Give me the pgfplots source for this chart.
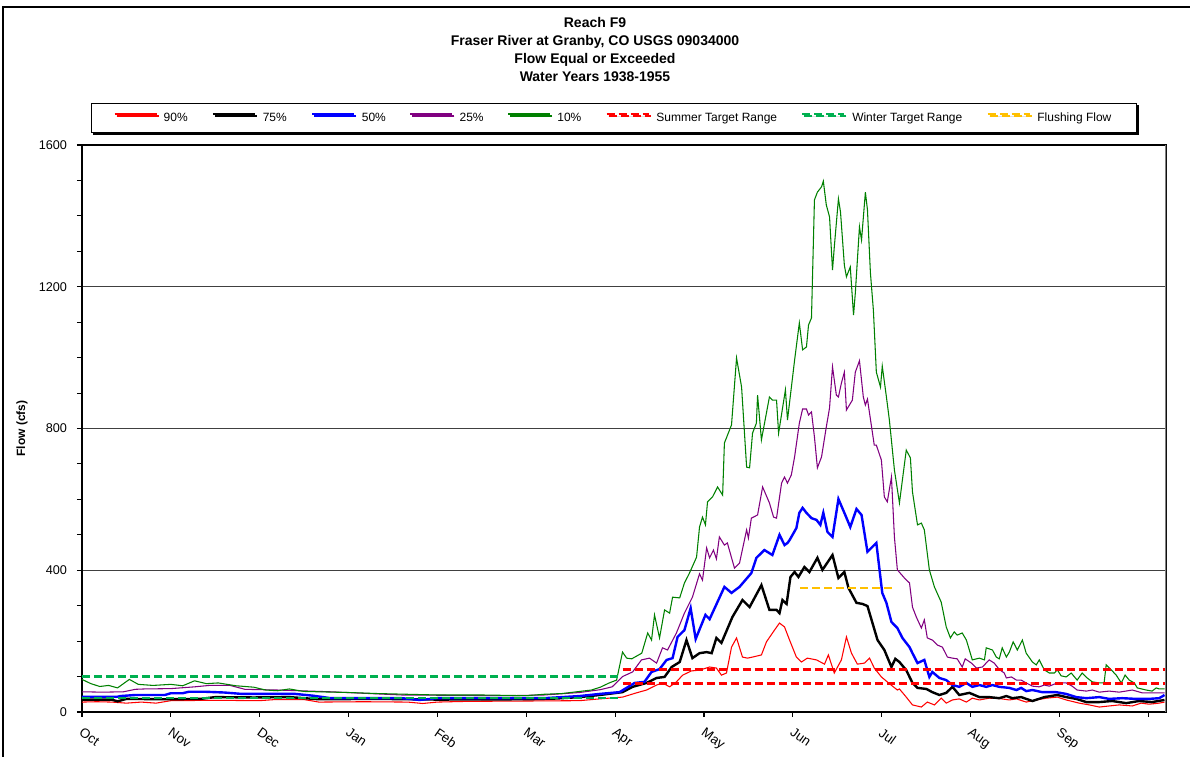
\documentclass[border=0pt]{standalone}
\usepackage{pgfplots}
\pgfplotsset{compat=1.18}
\usepackage{fontspec}
\setmainfont{Liberation Sans}
\usetikzlibrary{shadows}
\definecolor{c90}{RGB}{255,0,0}
\definecolor{c75}{RGB}{0,0,0}
\definecolor{c50}{RGB}{0,0,255}
\definecolor{c25}{RGB}{128,0,128}
\definecolor{c10}{RGB}{0,128,0}
\definecolor{csum}{RGB}{255,0,0}
\definecolor{cwin}{RGB}{0,176,80}
\definecolor{cflu}{RGB}{255,192,0}
\begin{document}
\begin{tikzpicture}
\useasboundingbox (-61.5pt,-33.75pt) rectangle (831pt,534pt);
\draw[black, line width=0.9pt] (-59.25pt,-34pt) -- (-59.25pt,528.75pt) -- (832pt,528.75pt);
\begin{axis}[
  at={(0,0)}, anchor=south west, scale only axis,
  width=813pt, height=425.25pt,
  xmin=0, xmax=366, ymin=0, ymax=1600,
  xtick={0,30,...,360},
  xticklabels={Oct,Nov,Dec,Jan,Feb,Mar,Apr,May,Jun,Jul,Aug,Sep,{}},
  ytick={0,400,...,1600},
  minor ytick={100,200,300,500,600,700,900,1000,1100,1300,1400,1500},
  tick pos=left,
  tick align=outside,
  major tick length=3.75pt, minor tick length=3.75pt,
  tick style={black, line width=0.8pt},
  ymajorgrids, grid style={black!75, line width=0.9pt},
  axis line style={black, line width=1pt},
  /pgf/number format/assume math mode=true,
  /pgf/number format/set thousands separator={},
  scaled y ticks=false,
  yticklabel style={font=\fontsize{9.5}{10}\selectfont, xshift=-4pt},
  xticklabel style={font=\fontsize{10}{11}\selectfont, rotate=-35, anchor=north west, xshift=2pt, yshift=-2pt},
  legend columns=8,
  legend style={at={(0.4908,1.0476)}, anchor=center, draw=black, line width=0.8pt,
    font=\fontsize{9}{10}\selectfont, inner xsep=17pt, inner ysep=5pt,
    drop shadow={shadow xshift=1.5pt, shadow yshift=-1.5pt, fill=black, opacity=1},
    /tikz/every odd column/.append style={column sep=3pt},
    /tikz/every even column/.append style={column sep=16pt}},
  legend image code/.code={\draw[#1] (0pt,3pt) -- (31.5pt,3pt);},
  legend cell align=left,
]
\addplot[c90, line width=0.8pt] coordinates {(0,28)(5,29)(10,28)(15,25)(20,28)(25,25)(30,32)(45,33)(60,32)(65,35)(75,35)(80,28)(95,29)(110,28)(115,24)(120,28)(130,30)(150,31)(168,32)(174.8,37)(182.5,42)(187.2,54)(190.6,62)(194.0,76)(196.0,82)(198.4,71)(200.7,85)(202.8,104)(205.8,116)(208.5,118)(211.9,127)(214.2,124)(215.9,104)(217.6,110)(219.3,183)(221.0,209)(223.0,155)(224.7,152)(226.4,155)(229.4,161)(231.1,198)(233.8,231)(235.5,251)(237.2,240)(238.9,203)(241.2,155)(242.9,141)(244.9,152)(248.0,147)(250.7,135)(252.0,161)(254.0,110)(256.4,147)(258.1,212)(259.8,166)(261.8,135)(264.2,138)(265.9,152)(267.5,124)(269.9,99)(272.6,80)(275.3,62)(276.0,65)(278.3,42)(280.4,20)(283.4,14)(285.4,28)(287.8,20)(290.1,39)(291.8,25)(293.9,34)(296.2,37)(298.6,28)(300.6,39)(303.0,34)(306.3,39)(309.7,38)(313.1,34)(315.5,37)(318.8,28)(322.2,34)(325.6,39)(329.3,42)(332.3,34)(336.7,25)(340.1,20)(343.5,14)(346.8,17)(350.2,20)(354.6,17)(357.6,25)(360.3,22)(363.7,25)(365.5,28)};
\addlegendentry{90\%}
\addplot[c75, line width=1.8pt] coordinates {(0,35)(10,35)(12,30)(15,37)(28,36)(40,37)(45,42)(58,41)(70,42)(80,36)(100,37)(120,35)(150,36)(160,38)(168,42)(174.8,48)(182.5,56)(185.9,71)(190.6,82)(194.0,96)(196.7,99)(199.1,127)(201.8,141)(204.1,203)(206.1,152)(208.5,166)(210.9,169)(212.6,166)(214.2,209)(215.9,195)(219.6,268)(223.0,316)(225.4,296)(229.4,358)(232.1,288)(234.5,288)(235.5,279)(236.5,316)(237.9,305)(239.2,381)(240.6,395)(241.9,381)(243.9,409)(245.6,395)(248.3,435)(250.0,401)(253.4,443)(255.4,378)(257.4,395)(258.8,350)(261.5,308)(263.5,305)(265.2,299)(268.6,203)(270.9,175)(273.3,127)(274.6,150)(276.0,141)(278.3,118)(280.4,82)(282.1,68)(285.1,65)(287.1,56)(289.5,48)(291.8,54)(293.9,71)(296.2,48)(299.6,54)(303.0,42)(306.3,42)(309.7,39)(312.1,45)(314.1,39)(317.1,42)(320.9,31)(324.9,42)(329.3,48)(332.3,42)(335.7,37)(339.1,28)(343.5,28)(347.8,31)(352.6,25)(356.9,31)(361.3,28)(365.5,34)};
\addlegendentry{75\%}
\addplot[c50, line width=1.8pt] coordinates {(0,43)(12,43)(13,45)(18,48)(28,48)(30,53)(34,53)(36,57)(42,57)(48,55)(54,51)(72,51)(78,46)(84,39)(108,39)(114,34)(120,39)(156,39)(168,45)(174.8,51)(181.5,56)(186.6,82)(189.9,85)(192.3,113)(195.0,121)(197.4,147)(199.4,152)(201.1,212)(203.4,231)(205.5,293)(207.2,206)(210.5,274)(211.9,262)(216.9,353)(219.3,336)(222.0,353)(226.0,392)(227.7,435)(230.4,457)(233.1,443)(235.5,500)(237.2,471)(238.2,477)(238.9,485)(241.2,519)(242.2,562)(243.3,576)(244.6,562)(246.3,547)(248.0,542)(249.3,528)(250.3,562)(251.7,508)(253.4,494)(255.4,601)(257.4,562)(259.4,522)(261.5,573)(263.2,556)(265.2,452)(268.2,477)(270.2,336)(271.6,308)(273.3,254)(275.3,237)(277.0,209)(279.4,183)(280.4,166)(282.1,138)(284.4,147)(286.1,99)(287.1,113)(289.5,96)(291.8,90)(293.9,76)(296.2,71)(298.6,82)(300.6,71)(303.0,76)(305.3,71)(307.4,76)(309.7,71)(313.1,68)(315.5,62)(317.1,68)(318.8,59)(320.9,62)(324.2,56)(328.9,56)(332.3,51)(335.7,42)(339.1,39)(343.5,42)(346.8,37)(351.2,39)(355.9,37)(360.3,37)(363.7,39)(365.5,48)};
\addlegendentry{50\%}
\addplot[c25, line width=0.8pt] coordinates {(0,57)(7,56)(14,57)(18,64)(21,65)(30,66)(38,71)(43,75)(50,75)(55,64)(66,62)(84,57)(108,48)(144,46)(156,48)(168,55)(175,63)(179,71)(182.5,100)(185.9,113)(188.9,147)(191.6,152)(194,138)(196,181)(197.7,175)(200.7,223)(203.4,279)(206.1,324)(208.5,390)(209.5,372)(210.9,463)(211.9,435)(213.2,457)(214.2,432)(215.2,494)(216.9,471)(217.9,477)(220.3,406)(222.0,420)(224.4,514)(225.0,491)(226.0,547)(228.1,556)(229.8,635)(232.1,590)(233.5,550)(234.5,547)(236.2,646)(237.2,663)(238.2,646)(239.5,669)(240.6,720)(242.2,815)(243.3,855)(244.6,855)(245.3,838)(246.3,847)(247.3,776)(248.3,689)(249.7,720)(251.3,804)(252.4,858)(253.4,974)(254.7,894)(255.4,889)(256.4,928)(257.4,959)(258.1,852)(260.1,880)(261.1,959)(262.5,991)(263.8,889)(264.5,866)(265.2,883)(267.5,753)(268.2,753)(269.9,711)(270.9,607)(271.9,593)(273.3,663)(274.3,494)(275.3,401)(277.7,378)(279.4,364)(280.4,296)(281.7,268)(283.4,237)(284.4,260)(285.4,209)(287.1,203)(288.8,189)(290.5,183)(292.2,155)(293.9,152)(295.5,150)(297.2,127)(298.2,150)(300.3,138)(302.0,124)(304.0,127)(306.3,147)(308.0,138)(309.7,120)(311.4,110)(312.1,96)(313.8,99)(315.5,90)(317.1,90)(318.8,82)(320.9,73)(323.2,71)(324.9,76)(326.6,73)(329.3,82)(332.3,82)(334.3,73)(336.0,62)(339.1,59)(341.1,62)(343.5,56)(346.8,59)(350.2,56)(354.6,62)(358.0,54)(362.7,54)(365.5,54)};
\addlegendentry{25\%}
\addplot[c10, line width=0.8pt] coordinates {(0,92)(3,80)(6,72)(9,75)(12,68)(16,92)(19,78)(24,75)(30,78)(34,74)(38,88)(42,80)(46,82)(52,74)(58,70)(62,62)(66,60)(70,65)(75,58)(90,55)(100,52)(110,50)(120,48)(135,48)(150,46)(156,50)(162,52)(168,58)(172,62)(175,70)(178,82)(180.5,90)(182.5,169)(183.9,152)(185.6,150)(189,166)(191,223)(192.3,203)(193.3,274)(195,209)(196.7,288)(198.4,279)(199.4,324)(201.8,322)(203.4,364)(205.1,392)(207.5,437)(208.5,522)(209.5,550)(210.5,528)(211.2,593)(212.9,607)(214.6,635)(216.3,612)(216.9,759)(219.3,810)(221.0,999)(222.7,917)(224.4,691)(225.4,689)(226.4,787)(227.7,815)(228.1,894)(229.4,768)(232.1,889)(233.1,880)(234.5,880)(235.2,787)(237.5,909)(238.2,824)(240.6,993)(242.2,1098)(243.3,1022)(244.6,1030)(245.3,1092)(246.3,1112)(247.3,1445)(248.3,1467)(249.7,1482)(250.3,1498)(251.3,1431)(252.4,1397)(253.4,1247)(254.0,1312)(255.4,1448)(256.1,1411)(257.4,1261)(258.1,1228)(259.4,1256)(260.5,1120)(261.1,1182)(262.5,1369)(263.2,1332)(264.5,1467)(265.2,1417)(266.2,1239)(267.2,1134)(268.2,959)(269.6,917)(270.2,976)(271.6,889)(272.6,824)(274.3,683)(276.0,590)(278.3,739)(279.7,717)(280.4,621)(282.1,528)(283.4,533)(284.4,514)(286.1,401)(287.8,353)(290.1,310)(291.8,240)(293.2,209)(294.5,226)(295.5,217)(297.2,223)(298.6,203)(300.6,147)(303.0,152)(304.7,147)(305.3,181)(307.4,175)(308.7,155)(309.7,150)(310.7,181)(312.1,155)(313.1,169)(314.4,198)(315.8,175)(317.5,203)(318.8,166)(320.9,141)(322.2,133)(323.2,147)(324.9,119)(326.6,110)(328.3,110)(329.3,119)(330.6,102)(332.3,99)(334.0,110)(336.0,90)(337.7,110)(339.4,96)(341.1,85)(343.5,82)(345.1,82)(345.8,133)(347.5,119)(349.2,104)(350.9,82)(352.2,104)(353.6,90)(355.3,82)(356.3,68)(359.3,62)(361.3,59)(362.7,68)(363.7,65)(365.5,65)};
\addlegendentry{10\%}
\addplot[csum, line width=1.8pt, dash pattern=on 6pt off 3pt] coordinates {(182.5,120)(366,120)};
\addlegendentry{Summer Target Range}
\addplot[csum, line width=1.8pt, dash pattern=on 6pt off 3pt, forget plot] coordinates {(182.5,80)(366,80)};
\addplot[cwin, line width=1.8pt, dash pattern=on 6pt off 3pt] coordinates {(0,100)(182,100)};
\addlegendentry{Winter Target Range}
\addplot[cwin, line width=1.8pt, dash pattern=on 6pt off 3pt, forget plot] coordinates {(0,40)(182,40)};
\addplot[cflu, line width=1.8pt, dash pattern=on 6pt off 3pt] coordinates {(242.5,350)(273.5,350)};
\addlegendentry{Flushing Flow}
\draw[black!50, line width=1pt] (rel axis cs:1,0) -- (rel axis cs:1,1);
\end{axis}
\node[font=\bfseries\fontsize{10.5}{13.3}\selectfont, align=center] at (384.75pt,496.9pt) {Reach F9\\Fraser River at Granby,  CO USGS 09034000\\Flow Equal or Exceeded\\Water Years 1938-1955};
\node[rotate=90, font=\bfseries\fontsize{9}{10}\selectfont] at (-45pt,212.6pt) {Flow (cfs)};
\end{tikzpicture}
\end{document}
